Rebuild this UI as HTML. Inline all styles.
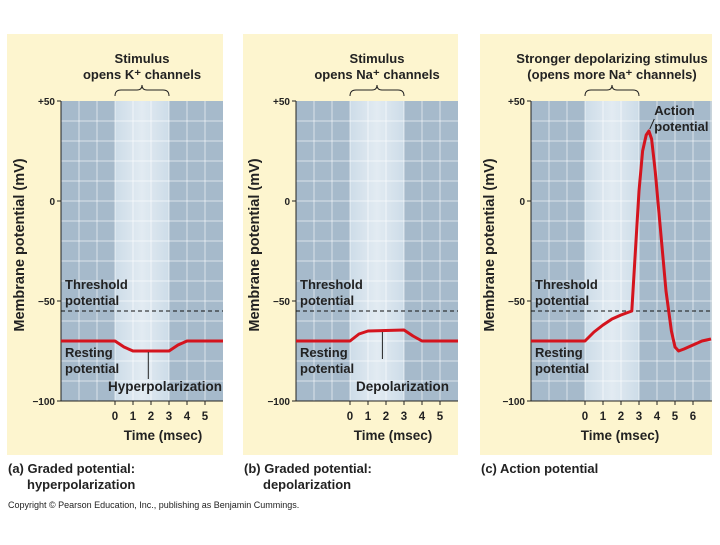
<!DOCTYPE html>
<html><head><meta charset="utf-8"><style>
body{margin:0;background:#fff;}
svg text{font-family:"Liberation Sans",Arial,sans-serif;font-weight:bold;fill:#222;}
</style></head><body>
<svg id="s" width="720" height="540" viewBox="0 0 720 540" xmlns="http://www.w3.org/2000/svg">
<defs>
<linearGradient id="lg" x1="0" x2="1" y1="0" y2="0">
<stop offset="0" stop-color="#cddce8"/><stop offset="0.5" stop-color="#e2ebf2"/><stop offset="1" stop-color="#cddce8"/>
</linearGradient>
</defs>
<text x="8" y="508" font-size="9" style="font-weight:normal">Copyright © Pearson Education, Inc., publishing as Benjamin Cummings.</text>
</svg>
<script>
// panel data (time in msec, potential in mV)
const timeA = [-3, 0, 0.5, 1, 3, 3.5, 4, 6];
const voltA = [-70, -70, -73, -75, -75, -72, -70, -70];
const timeB = [-3, 0, 0.5, 1, 3, 3.5, 4, 6];
const voltB = [-70, -70, -66.5, -65, -64.5, -67.5, -70, -70];
const timeC = [-3, 0, 0.5, 1, 1.5, 2, 2.6, 2.8, 3.0, 3.2, 3.4, 3.55, 3.7, 3.9, 4.2, 4.5, 4.8, 5.0, 5.2, 5.5, 6.0, 6.5, 7.0];
const voltC = [-70, -70, -65.5, -62, -59, -57, -55, -25, 5, 25, 33, 35, 31, 15, -15, -45, -65, -73, -75, -74, -72, -70, -69];
const yTicks = [50, 0, -50, -100];
const yTickLabels = ["+50", "0", "\u221250", "\u2212100"];
const thresholdMv = -55;
const xTicksAB = [0, 1, 2, 3, 4, 5];
const xTicksC = [0, 1, 2, 3, 4, 5, 6];

const NS = "http://www.w3.org/2000/svg";
const svg = document.getElementById('s');
function mk(tag, attrs, parent) {
  const e = document.createElementNS(NS, tag);
  for (const k in attrs) e.setAttribute(k, attrs[k]);
  (parent || svg).appendChild(e);
  return e;
}
function txt(x, y, s, size, anchor, parent) {
  const t = mk('text', {x: x, y: y, 'font-size': size, 'text-anchor': anchor || 'start'}, parent);
  t.textContent = s;
  return t;
}

const panels = [
  {key:'a', cx0:7, cx1:223, x0:115, xEnd:6, t:timeA, v:voltA, ticks:xTicksAB, timeX:163,
   title:["Stimulus", "opens K\u207A channels"], stimEnd:3,
   cap:["(a) Graded potential:", "hyperpolarization"], lbl:"Hyperpolarization", lblT:1.85, lblV:-75, lblX:108},
  {key:'b', cx0:243, cx1:458, x0:350, xEnd:6, t:timeB, v:voltB, ticks:xTicksAB, timeX:393,
   title:["Stimulus", "opens Na\u207A channels"], stimEnd:3,
   cap:["(b) Graded potential:", "depolarization"], lbl:"Depolarization", lblT:1.8, lblV:-65, lblX:356},
  {key:'c', cx0:480, cx1:712, x0:585, xEnd:7.05, t:timeC, v:voltC, ticks:xTicksC, timeX:620,
   title:["Stronger depolarizing stimulus", "(opens more Na\u207A channels)"], stimEnd:3,
   cap:["(c) Action potential"], lbl:null}
];

panels.forEach(p => {
  const g = mk('g', {});
  
  
  const X = t => p.x0 + t * 18;
  const Y = v => 201 - v * 2;
  const px0 = X(-3), px1 = X(p.xEnd);
  const bg = mk('rect', {x:p.cx0, y:34, width:p.cx1 - p.cx0, height:421, fill:'#fdf5cf'}, g);
  
  
  const plot = mk('rect', {x:px0, y:Y(50), width:px1 - px0, height:Y(-100) - Y(50), fill:'#a6bacb'}, g);
  
  
  const stim = mk('rect', {x:X(0), y:Y(50), width:X(p.stimEnd) - X(0), height:Y(-100) - Y(50), fill:'url(#lg)'}, g);
  
  
  for (let t = -2; t < p.xEnd; t++) {
    const l = mk('line', {x1:X(t), x2:X(t), y1:Y(50), y2:Y(-100), stroke:'#ffffff', 'stroke-opacity':0.6, 'stroke-width':1}, g);
    
    
  }
  for (let v = 40; v > -100; v -= 10) {
    const l = mk('line', {x1:px0, x2:px1, y1:Y(v), y2:Y(v), stroke:'#ffffff', 'stroke-opacity':0.6, 'stroke-width':1}, g);
    
    
  }
  const yax = mk('line', {x1:px0, x2:px0, y1:Y(50), y2:Y(-100), stroke:'#222', 'stroke-width':1}, g);
  
  
  const xax = mk('line', {x1:px0, x2:px1, y1:Y(-100), y2:Y(-100), stroke:'#222', 'stroke-width':1}, g);
  
  
  yTicks.forEach((v, i) => {
    const tk = mk('line', {x1:px0 - 4, x2:px0, y1:Y(v), y2:Y(v), stroke:'#222'}, g);
    
    
    const tl = txt(px0 - 6, Y(v) + 4, yTickLabels[i], 10, 'end', g);
    
    
  });
  p.ticks.forEach(t => {
    const tk = mk('line', {x1:X(t), x2:X(t), y1:Y(-100), y2:Y(-100) + 4, stroke:'#222'}, g);
    
    
    const tl = txt(X(t), Y(-100) + 19, String(t), 11.5, 'middle', g);
    
    
  });
  const xt = txt(p.timeX, 440, 'Time (msec)', 13.5, 'middle', g);
  
  
  const yt = txt(0, 0, 'Membrane potential (mV)', 14.5, 'middle', g);
  yt.setAttribute('transform', 'translate(' + (px0 - 37) + ',' + Y(-22) + ') rotate(-90)');
  
  
  const th = mk('line', {x1:px0, x2:px1, y1:Y(thresholdMv), y2:Y(thresholdMv), stroke:'#111', 'stroke-width':1, 'stroke-dasharray':'4,3'}, g);
  
  
  const tl1 = txt(px0 + 4, 289, 'Threshold', 13, 'start', g);
  
  
  txt(px0 + 4, 305, 'potential', 13, 'start', g);
  const rl = txt(px0 + 4, 357, 'Resting', 13, 'start', g);
  
  
  txt(px0 + 4, 373, 'potential', 13, 'start', g);
  // title and bracket
  const tc = (X(0) + X(3)) / 2;
  const t1 = txt(tc, 63, p.title[0], 13, 'middle', g);
  
  
  txt(tc, 79, p.title[1], 13, 'middle', g);
  const br = mk('path', {d:'M' + X(0) + ',96 Q' + X(0) + ',90 ' + (X(0)+6) + ',90 L' + (tc-5) + ',90 Q' + tc + ',90 ' + tc + ',85 Q' + tc + ',90 ' + (tc+5) + ',90 L' + (X(3)-6) + ',90 Q' + X(3) + ',90 ' + X(3) + ',96', fill:'none', stroke:'#222', 'stroke-width':1}, g);
  
  
  // series
  let d = '';
  p.t.forEach((t, i) => { d += (i ? 'L' : 'M') + X(t).toFixed(1) + ',' + Y(p.v[i]).toFixed(1); });
  const ln = mk('path', {d:d, fill:'none', stroke:'#d4141e', 'stroke-width':3, 'stroke-linejoin':'round'}, g);
  
  
  if (p.lbl) {
    const ll = mk('line', {x1:X(p.lblT), x2:X(p.lblT), y1:Y(p.lblV) + 1, y2:Y(p.lblV) + 28, stroke:'#222'}, g);
    
    
    const la = txt(p.lblX, 391, p.lbl, 13.5, 'start', g);
    
    
  } else {
    const ll = mk('line', {x1:X(3.6), x2:X(3.85), y1:Y(36), y2:Y(41), stroke:'#222'}, g);
    
    
    const la = txt(X(3.85), 115, 'Action', 13, 'start', g);
    
    
    txt(X(3.85), 131, 'potential', 13, 'start', g);
  }
  const c1 = txt(p.cx0 + 1, 473, p.cap[0], 13, 'start', g);
  
  
  if (p.cap[1]) txt(p.cx0 + 20, 489, p.cap[1], 13, 'start', g);
});
</script>
</body></html>
